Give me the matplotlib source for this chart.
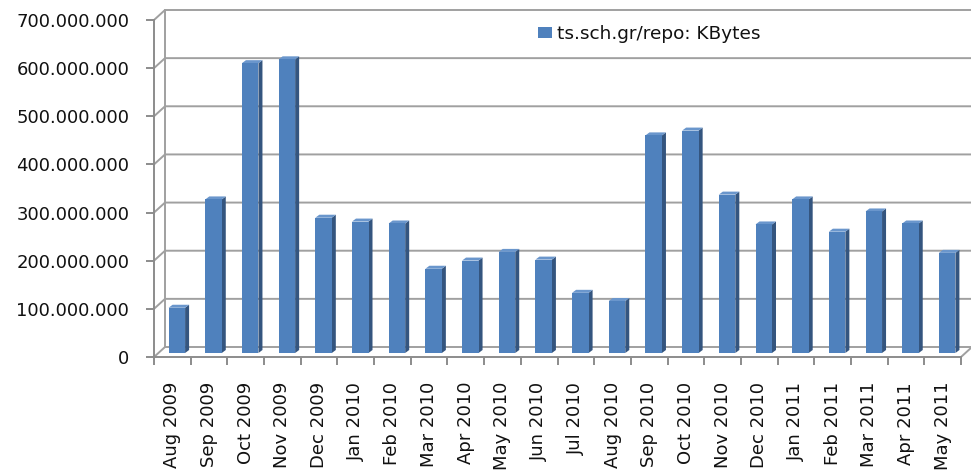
import matplotlib.pyplot as plt
import numpy as np
from matplotlib.ticker import FuncFormatter, MultipleLocator

months = ["Aug 2009", "Sep 2009", "Oct 2009", "Nov 2009", "Dec 2009", "Jan 2010",
          "Feb 2010", "Mar 2010", "Apr 2010", "May 2010", "Jun 2010", "Jul 2010",
          "Aug 2010", "Sep 2010", "Oct 2010", "Nov 2010", "Dec 2010", "Jan 2011",
          "Feb 2011", "Mar 2011", "Apr 2011", "May 2011"]
kbytes = [94e6, 319e6, 602e6, 610e6, 281e6, 273e6,
          269e6, 175e6, 192e6, 210e6, 194e6, 125e6,
          108e6, 452e6, 462e6, 329e6, 267e6, 319e6,
          252e6, 294e6, 269e6, 208e6]
series_name = "ts.sch.gr/repo: KBytes"

W, H = 971, 472
fig = plt.figure(figsize=(W / 100, H / 100), dpi=100)
ax_l, ax_r, ax_b, ax_t = 154, 961, 357, 20
ax = fig.add_axes([ax_l / W, (H - ax_b) / H, (ax_r - ax_l) / W, (ax_b - ax_t) / H])

n = len(months)
ymax = 700e6
ax.set_xlim(-0.5, n - 0.5)
ax.set_ylim(0, ymax)

# pixel -> data helpers (fixed figure size)
px_x = n / (ax_r - ax_l)
px_y = ymax / (ax_b - ax_t)
ddx, ddy = 11 * px_x, 10 * px_y  # depth offset of the back wall

grid_c = "#a0a0a0"
lw = 1.4
x0, x1 = -0.5, n - 0.5
for v in np.arange(0, ymax + 1, 100e6):
    ax.plot([x0, x0 + ddx, x1 + ddx], [v, v + ddy, v + ddy],
            color=grid_c, lw=lw, clip_on=False, zorder=1)
# back-left wall edge and right floor edge
ax.plot([x0 + ddx, x0 + ddx], [ddy, ymax + ddy], color=grid_c, lw=lw, clip_on=False, zorder=1)
ax.plot([x1, x1 + ddx], [0, ddy], color=grid_c, lw=lw, clip_on=False, zorder=1)

# bars with pseudo 3D faces
x = np.arange(n)
bw = 16.5 * px_x
bdx, bdy = 4.5 * px_x, 4 * px_y
sw, sh = 4 * px_x, 3 * px_y
front = "#4f81bd"
side = "#34557f"
top = "#6a96cc"
for xi, v in zip(x, kbytes):
    l = xi - bw / 2 + bdx
    r = l + bw
    b = bdy
    t = v + bdy
    ax.fill([r, r + sw, r + sw, r], [b, b + sh, t + sh, t], color=side, lw=0, zorder=3)
    ax.fill([l, r, r + sw, l + sw], [t, t, t + sh, t + sh], color=top, lw=0, zorder=3)
ax.bar(x + bdx, kbytes, width=bw, bottom=bdy, color=front, lw=0, zorder=4,
       label=series_name)

# axes styling
for s in ["top", "right"]:
    ax.spines[s].set_visible(False)
for s in ["left", "bottom"]:
    ax.spines[s].set_color("#8c8c8c")
    ax.spines[s].set_linewidth(1.4)

ax.yaxis.set_major_locator(MultipleLocator(100e6))
ax.yaxis.set_major_formatter(FuncFormatter(lambda v, p: f"{int(v):,}".replace(",", ".")))
ax.tick_params(axis="y", length=5.8, width=1.4, color="#8c8c8c", labelsize=13, pad=12,
               labelcolor="#111111")

ax.set_xticks(x)
ax.set_xticklabels(months, rotation=90, fontsize=13, color="#111111")
ax.set_xticks(np.arange(-0.5, n), minor=True)
ax.tick_params(axis="x", which="major", length=0, pad=18)
ax.tick_params(axis="x", which="minor", length=5.5, width=1.4, color="#8c8c8c")

leg = ax.legend(loc="center left", bbox_to_anchor=(538 / W, 1 - 34 / H),
                bbox_transform=fig.transFigure, frameon=False, borderpad=0,
                borderaxespad=0, fontsize=13.3, handlelength=0.75, handleheight=0.5,
                handletextpad=0.3, labelcolor="#111111")

fig.savefig("out.png", dpi=100)
